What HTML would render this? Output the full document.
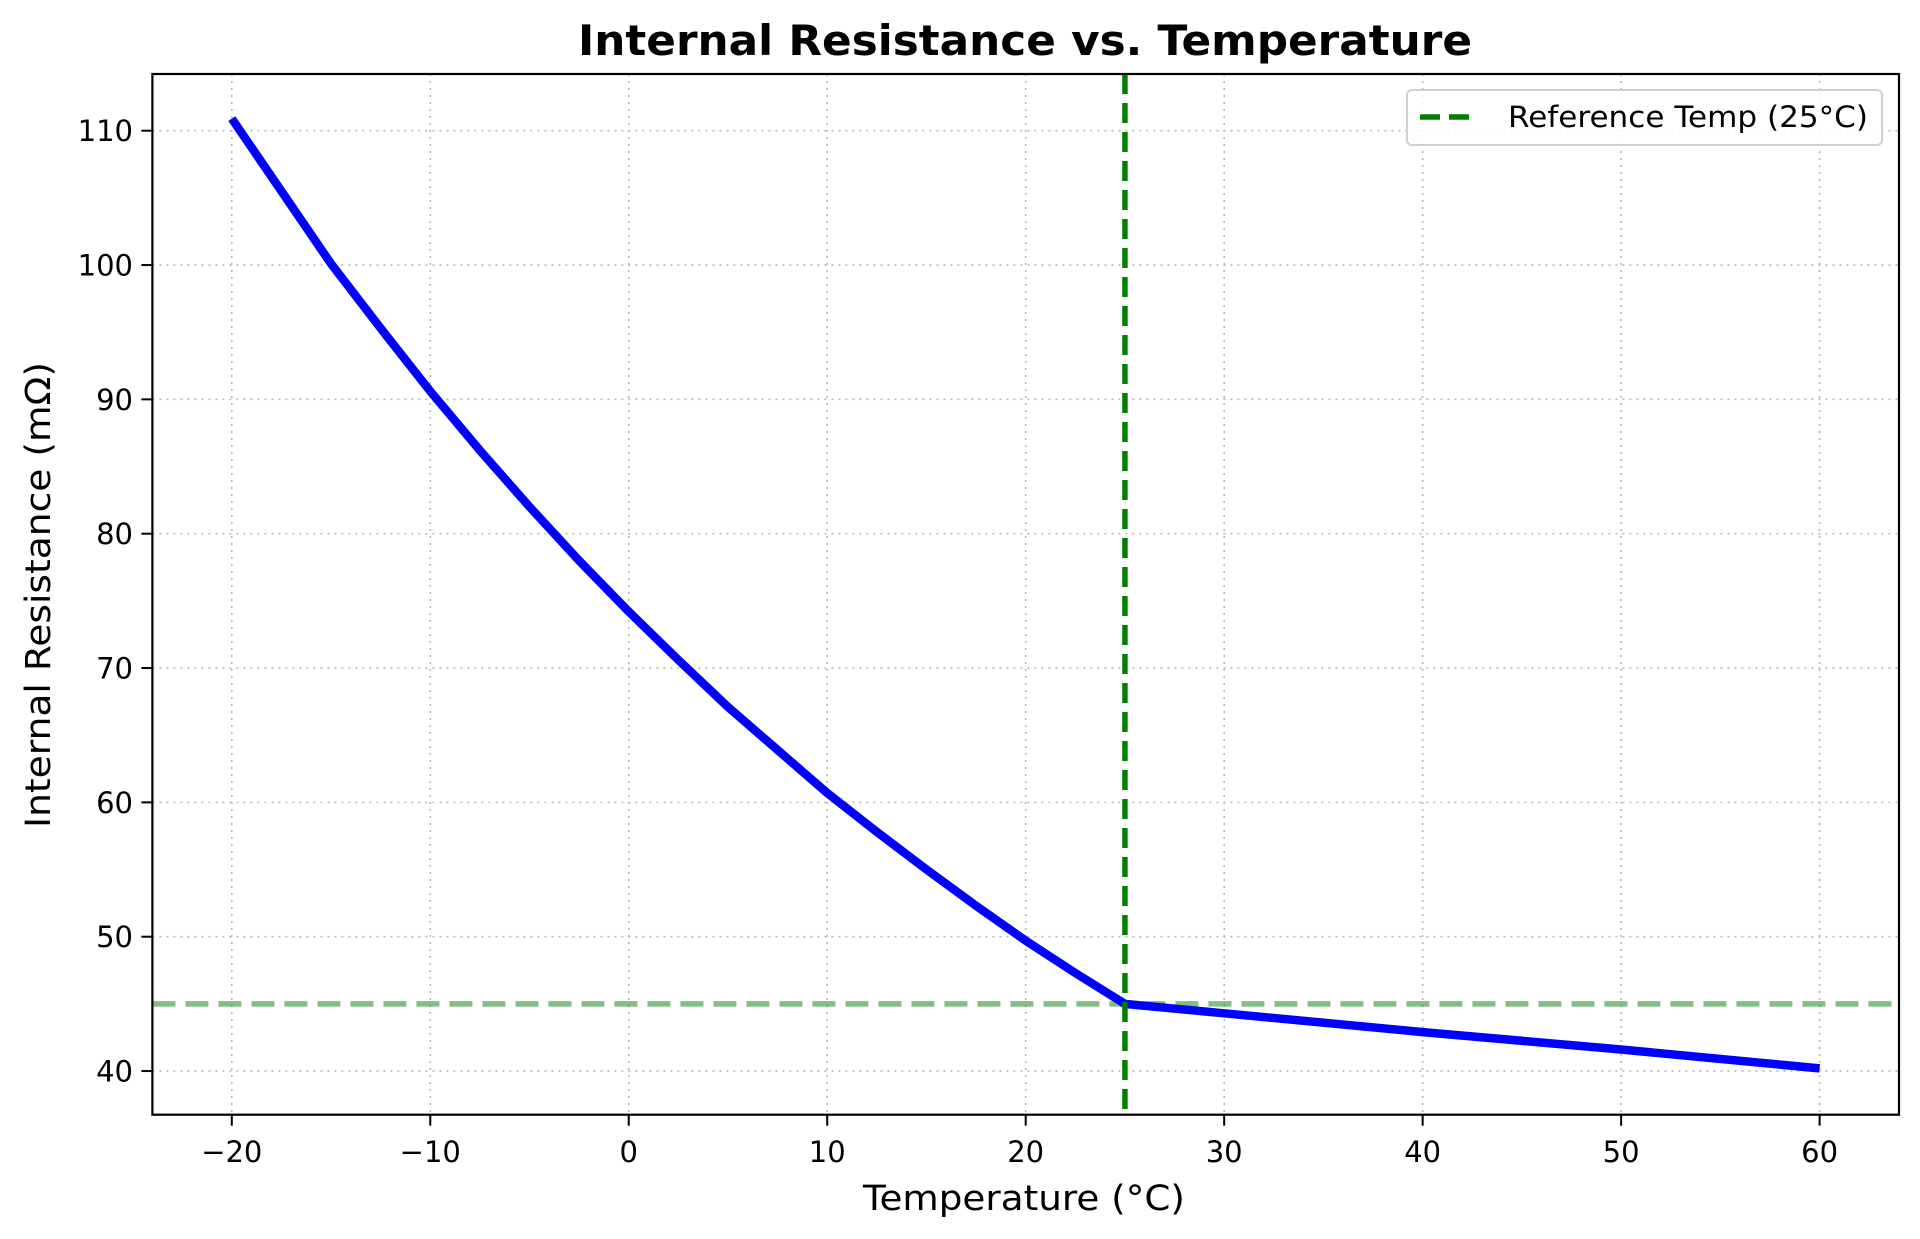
<!DOCTYPE html>
<html><head><meta charset="utf-8"><style>
html,body{margin:0;padding:0;background:#fff;}
svg{display:block;font-family:"DejaVu Sans","Liberation Sans",sans-serif;}
</style></head><body>
<svg id="chart" width="1920" height="1239" viewBox="0 0 1920 1239">
<text x="1025" y="55" text-anchor="middle" font-size="42" font-weight="bold" textLength="894" lengthAdjust="spacingAndGlyphs">Internal Resistance vs. Temperature</text>
<g id="grid"></g>
<g id="refs"></g>
<g id="series"></g>
<rect x="152.4" y="74" width="1746.6" height="1040.7" fill="none" stroke="#000" stroke-width="2.2"/>
<g id="xticks"></g>
<g id="yticks"></g>
<text x="1024" y="1210" text-anchor="middle" font-size="35" textLength="322" lengthAdjust="spacingAndGlyphs">Temperature (°C)</text>
<text transform="translate(50,595) rotate(-90)" text-anchor="middle" font-size="35" textLength="466" lengthAdjust="spacingAndGlyphs">Internal Resistance (mΩ)</text>
<g>
<rect x="1407" y="90" width="475" height="55" rx="5" fill="#fff" fill-opacity="0.85" stroke="#d0d0d0" stroke-width="2"/>
<line x1="1420" y1="117" x2="1477" y2="117" stroke="#008000" stroke-width="5.5" stroke-dasharray="20,9"/>
<text x="1508" y="127" font-size="29" textLength="360" lengthAdjust="spacingAndGlyphs">Reference Temp (25°C)</text>
</g>
</svg>
<script>
const temps = [-20, -17.5, -15, -12.5, -10, -7.5, -5, -2.5, 0, 2.5, 5, 7.5, 10, 12.5, 15, 17.5, 20, 22.5, 25, 30, 40, 50, 60];
const resistance = [110.9, 105.5, 100.1, 95.3, 90.6, 86.2, 82.0, 78.0, 74.2, 70.6, 67.1, 63.9, 60.7, 57.8, 55.0, 52.3, 49.7, 47.3, 45.0, 44.3, 42.9, 41.6, 40.2];
const xTicks = [-20, -10, 0, 10, 20, 30, 40, 50, 60];
const xTickLabels = ["\u221220", "\u221210", "0", "10", "20", "30", "40", "50", "60"];
const yTicks = [40, 50, 60, 70, 80, 90, 100, 110];
const yTickLabels = ["40", "50", "60", "70", "80", "90", "100", "110"];
const refTemp = [25];
const refResistance = [45];

const L = 152.4, R = 1899, T = 74, B = 1114.7;
const xMin = -24, xMax = 64, yMin = 36.75, yMax = 114.22;
const xs = v => L + (v - xMin) / (xMax - xMin) * (R - L);
const ys = v => B - (v - yMin) / (yMax - yMin) * (B - T);
const NS = "http://www.w3.org/2000/svg";
function mk(tag, attrs, parent) {
  const e = document.createElementNS(NS, tag);
  for (const k in attrs) e.setAttribute(k, attrs[k]);
  parent.appendChild(e);
  return e;
}
const grid = document.getElementById('grid');
const xt = document.getElementById('xticks');
const yt = document.getElementById('yticks');
xTicks.forEach((v, i) => {
  const x = xs(v);
  const g = mk('line', {x1: x, y1: T, x2: x, y2: B, stroke: '#b8b8b8', 'stroke-width': 1.6, 'stroke-dasharray': '2,5'}, grid);
  
  
  const t = mk('line', {x1: x, y1: B, x2: x, y2: B + 11, stroke: '#000', 'stroke-width': 2}, xt);
  
  
  const tx = mk('text', {x: x, y: 1162, 'text-anchor': 'middle', 'font-size': 29}, xt);
  tx.textContent = xTickLabels[i];
  
  
});
yTicks.forEach((v, i) => {
  const y = ys(v);
  const g = mk('line', {x1: L, y1: y, x2: R, y2: y, stroke: '#b8b8b8', 'stroke-width': 1.6, 'stroke-dasharray': '2,5'}, grid);
  
  
  const t = mk('line', {x1: L - 11, y1: y, x2: L, y2: y, stroke: '#000', 'stroke-width': 2}, yt);
  
  
  const tx = mk('text', {x: 133, y: y + 10.5, 'text-anchor': 'end', 'font-size': 29}, yt);
  tx.textContent = yTickLabels[i];
  
  
});
const refs = document.getElementById('refs');
const hl = mk('line', {x1: L, y1: ys(refResistance[0]), x2: R, y2: ys(refResistance[0]), stroke: '#008000', 'stroke-opacity': 0.5, 'stroke-width': 5.5, 'stroke-dasharray': '23,10'}, refs);


const series = document.getElementById('series');
const pts = temps.map((t, i) => xs(t).toFixed(1) + ',' + ys(resistance[i]).toFixed(1)).join(' ');
const pl = mk('polyline', {points: pts, fill: 'none', stroke: '#0000ff', 'stroke-width': 8.5, 'stroke-linejoin': 'round'}, series);


const vl = mk('line', {x1: xs(refTemp[0]), y1: T, x2: xs(refTemp[0]), y2: B, stroke: '#008000', 'stroke-width': 5.5, 'stroke-dasharray': '20,9'}, series);


</script>
</body></html>
